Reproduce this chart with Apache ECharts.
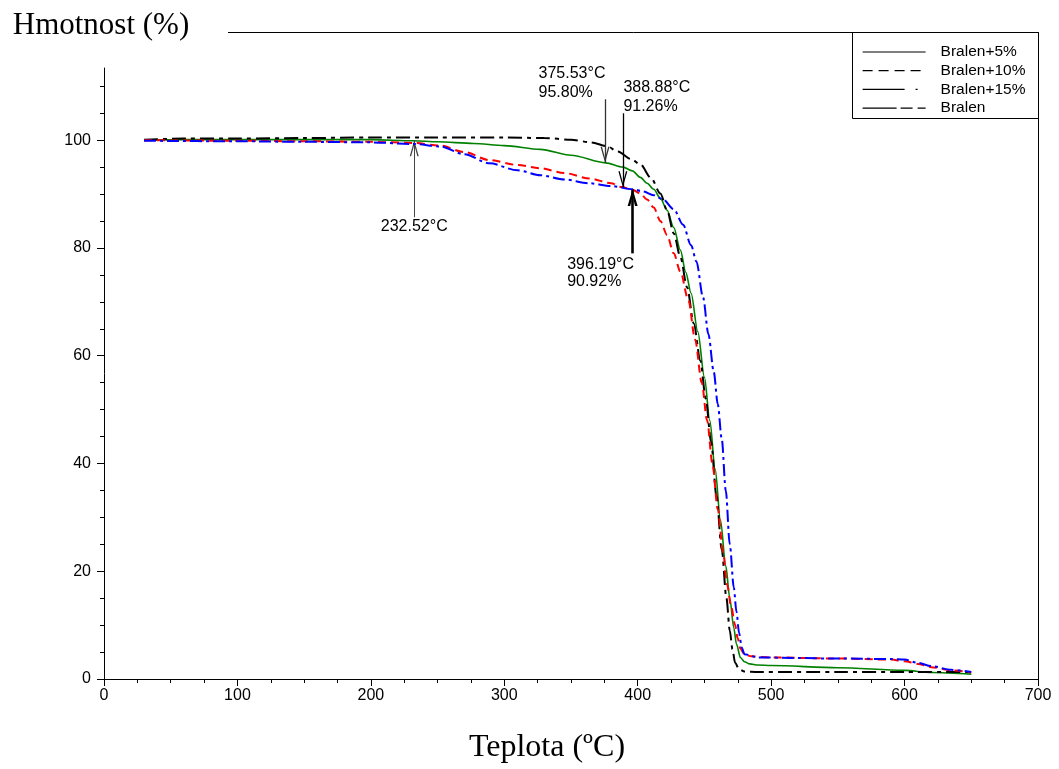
<!DOCTYPE html>
<html><head><meta charset="utf-8">
<script src="https://cdn.jsdelivr.net/npm/echarts@6/dist/echarts.min.js"></script>
<style>html,body{margin:0;padding:0;background:#fff}#c{width:1059px;height:769px}</style>
</head><body><div id="c"></div>
<script>
// ---- data ----
const seriesNames = ['Bralen+5%', 'Bralen+10%', 'Bralen+15%', 'Bralen'];

const tempB5 = [30,60,100,150,200,232,250,277,300,327,350,376,389,396,402,407,412,417,422,427,432,436,440,445,450,454,458,462,466,469,472,474,477,480,484,490,500,550,600,620,650];
const massB5 = [100.0,100.1,100.1,100.1,100.1,99.9,99.7,99.4,99.0,98.3,97.2,95.8,95.0,94.3,93.1,92.0,90.9,89.2,87.0,83.8,79.6,75.5,71.6,64.5,56,48,39,29.5,21,15,9.5,6.5,4.0,3.2,2.8,2.6,2.5,2.1,1.6,1.2,0.9];

const tempB10 = [30,100,150,200,232,252,270,289,310,327,345,364,380,388,396,402,407,412,417,422,427,432,438,443,448,452,456,460,464,467,470,473,475,477,480,485,500,550,590,600,610,620,635,650];
const massB10 = [100.0,99.9,99.8,99.7,99.5,99.0,97.8,96.3,95.4,94.8,93.9,92.9,92.0,91.3,90.8,90.1,89.0,87.5,85.0,82.4,79.0,75.6,70.3,63,55,48,40,31.5,23.5,17.5,13.5,10,7.5,5.6,4.6,4.2,4.0,3.8,3.6,3.3,2.8,2.2,1.6,1.2];

const tempB15 = [30,100,150,200,232,252,270,289,310,327,345,364,380,396,404,412,419,427,434,440,444,449,453,457,460,463,466,469,472,474,476,478,480,490,550,590,600,610,620,635,650];
const massB15 = [99.9,99.8,99.7,99.6,99.3,98.85,97.4,95.7,94.4,93.5,92.7,92.0,91.5,90.9,90.5,89.8,89.0,87.2,84.3,80.5,77.5,70.8,64,57,51,44.5,35,25,17,12.5,8.5,5.8,4.6,4.0,3.8,3.7,3.6,3.0,2.4,1.7,1.3];

const tempB0 = [30,60,100,150,200,250,300,330,350,365,377,385,395,402,410,417,422,427,432,437,442,447,451,455,459,463,466.5,469,471,473,476,480,490,550,600,650];
const massB0 = [100.1,100.3,100.3,100.4,100.5,100.5,100.5,100.4,100.1,99.6,98.9,97.9,96.5,95.5,93.0,90.1,87.0,82.7,78.3,72.7,66,59,52,44,34,24,15,9,5.5,3,1.8,1.4,1.3,1.3,1.3,1.3];

// annotations (value units)
const annotTemps = [232.52, 375.53, 388.88, 396.19];
const annotMass  = [100.0, 95.80, 91.26, 90.92];
const annotTail  = [85.7, 107.6, 105.0, 79.0];
const annotTexts = ['232.52°C', '375.53°C\n95.80%', '388.88°C\n91.26%', '396.19°C\n90.92%'];

// ticks
const xLabelValues = [0,100,200,300,400,500,600,700];
const yLabelValues = [0,20,40,60,80,100];
const yMinorTickValues = [5,10,15,25,30,35,45,50,55,65,70,75,85,90,95,105,110];

// ---- chart ----
const pairs = (t, m) => t.map((v, i) => [v, m[i]]);
const chevThin = 'path://M4.5,0 L9,16 L7.6,16 L4.5,4.6 L1.4,16 L0,16 Z';
const chevThick = 'path://M5,0 L10,17 L7.4,17 L5,7 L2.6,17 L0,17 Z';

const arrowStyles = [
  {color:'#444', width:1, sym:chevThin, size:[9,16]},
  {color:'#333', width:1.3, sym:chevThin, size:[9,16]},
  {color:'#000', width:1.3, sym:chevThin, size:[9,16]},
  {color:'#000', width:2.6, sym:chevThick, size:[10,17]}
];
const labelPlace = [
  {position:[0.5, 1], align:'center', verticalAlign:'top', lineHeight:18},
  {position:[-66, 3.5], align:'left', verticalAlign:'bottom', lineHeight:19},
  {position:[1, 3.5], align:'left', verticalAlign:'bottom', lineHeight:19},
  {position:[-65, 3.5], align:'left', verticalAlign:'top', lineHeight:17}
];

const markLineData = annotTemps.map((t, i) => {
  const s = arrowStyles[i];
  return [
    {coord:[t, annotTail[i]], symbol:'none', lineStyle:{color:s.color, width:s.width, type:'solid'}},
    {coord:[t, annotMass[i]], symbol:s.sym, symbolSize:s.size, symbolOffset:[0, s.size[1]/2],
     itemStyle:{color:s.color}, lineStyle:{color:s.color, width:s.width, type:'solid'}}
  ];
});
const markPointData = annotTemps.map((t, i) => ({
  coord:[t, annotTail[i]], symbol:'circle', symbolSize:1,
  itemStyle:{color:'rgba(0,0,0,0)'},
  label:Object.assign({show:true, formatter:annotTexts[i], color:'#000',
    fontFamily:'Liberation Sans, Arial, sans-serif', fontSize:16}, labelPlace[i])
}));

const font = 'Liberation Sans, Arial, sans-serif';
const serif = 'Liberation Serif, Times New Roman, serif';

const chart = echarts.init(document.getElementById('c'), null, {renderer:'canvas'});
chart.setOption({
  animation:false,
  backgroundColor:'#fff',
  grid:{left:104, right:21, top:68, bottom:90, containLabel:false},
  legend:{
    orient:'vertical', left:862, top:44, padding:0,
    itemWidth:63, itemHeight:14, itemGap:2.7,
    textStyle:{color:'#000', fontFamily:font, fontSize:15.5, lineHeight:14, padding:[0,0,0,10]},
    lineStyle:{color:'#000', width:1.2},
    itemStyle:{color:'rgba(0,0,0,0)', borderWidth:0, opacity:0},
    data:[
      {name:'Bralen+5%', lineStyle:{type:'solid', color:'#000'}},
      {name:'Bralen+10%', lineStyle:{type:[10,6], color:'#000'}},
      {name:'Bralen+15%', lineStyle:{type:[42,11,2,30], color:'#000'}},
      {name:'Bralen', lineStyle:{type:[34,4,12,5,10,40], color:'#000'}}
    ],
    selectedMode:false
  },
  xAxis:{
    type:'value', min:0, max:700, interval:100,
    name:'Teplota (ºC)', nameLocation:'middle', nameGap:53,
    nameTextStyle:{fontFamily:serif, fontSize:32, color:'#000', padding:[0,48,0,0]},
    axisLine:{show:true, lineStyle:{color:'#000', width:1}},
    axisTick:{show:true, length:7, lineStyle:{color:'#000'}},
    minorTick:{show:true, splitNumber:4, length:4, lineStyle:{color:'#000'}},
    axisLabel:{color:'#000', fontFamily:font, fontSize:16, margin:9, customValues:xLabelValues},
    splitLine:{show:false}, minorSplitLine:{show:false}
  },
  yAxis:[{
    type:'value', min:0, max:113.4, interval:20,
    name:'Hmotnost (%)', nameLocation:'end', nameGap:27,
    nameTextStyle:{fontFamily:serif, fontSize:31, color:'#000', padding:[0,6,0,0]},
    axisLine:{show:true, lineStyle:{color:'#000', width:1}},
    axisTick:{show:true, length:7, lineStyle:{color:'#000'}, customValues:yLabelValues},
    axisLabel:{color:'#000', fontFamily:font, fontSize:16, margin:13, customValues:yLabelValues},
    splitLine:{show:false}
  },{
    type:'value', min:0, max:113.4, interval:5, position:'left',
    axisLine:{show:false},
    axisTick:{show:true, length:4, lineStyle:{color:'#000'}, customValues:yMinorTickValues},
    axisLabel:{show:false},
    splitLine:{show:false}
  }],
  series:[
    {name:'Bralen+5%', type:'line', data:pairs(tempB5, massB5), symbol:'none', smooth:0.3, smoothMonotone:'x',
     color:'#008000', lineStyle:{color:'#008000', width:1.6, type:'solid'}, z:2},
    {name:'Bralen', type:'line', data:pairs(tempB0, massB0), symbol:'none', smooth:0.3, smoothMonotone:'x',
     color:'#000', lineStyle:{color:'#000', width:2, type:[14,5,4,5]}, z:3,
     markLine:{silent:true, symbol:['none','none'], label:{show:false}, animation:false, data:markLineData},
     markPoint:{silent:true, animation:false, data:markPointData}},
    {name:'Bralen+10%', type:'line', data:pairs(tempB10, massB10), symbol:'none', smooth:0.3, smoothMonotone:'x',
     color:'#ff0000', lineStyle:{color:'#ff0000', width:2, type:[8,5]}, z:4},
    {name:'Bralen+15%', type:'line', data:pairs(tempB15, massB15), symbol:'none', smooth:0.3, smoothMonotone:'x',
     color:'#0000ff', lineStyle:{color:'#0000ff', width:2, type:[12,4,3,4]}, z:5}
  ],
  graphic:[
    {type:'line', z:50, silent:true, shape:{x1:228, y1:32.5, x2:1038.5, y2:32.5}, style:{stroke:'#000', lineWidth:1}},
    {type:'line', z:50, silent:true, shape:{x1:1038.5, y1:32.5, x2:1038.5, y2:679.5}, style:{stroke:'#000', lineWidth:1}},
    {type:'rect', z:50, silent:true, shape:{x:852.5, y:32.5, width:186, height:86}, style:{fill:null, stroke:'#000', lineWidth:1}}
  ]
});
</script>
</body></html>
